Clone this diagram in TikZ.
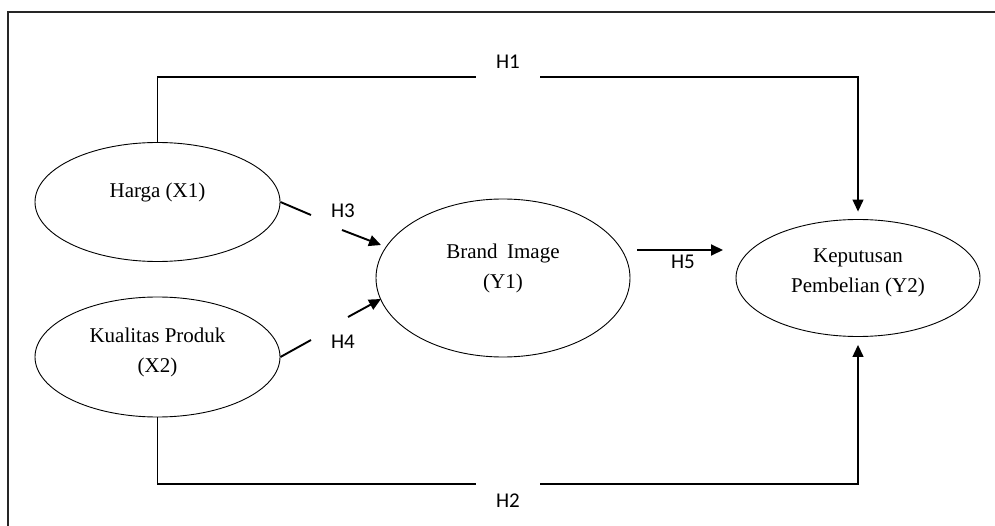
\documentclass[tikz,border=0pt]{standalone}
\usepackage{fontspec}
\setmainfont{Liberation Serif}
\newfontfamily\hfont{Carlito}
\usetikzlibrary{shapes.geometric,arrows.meta}
\begin{document}
\begin{tikzpicture}[x=1pt,y=-1pt,
  ell/.style={draw, ellipse, line width=0.9pt, inner sep=0pt},
  txt/.style={font=\fontsize{21}{30}\selectfont, align=center, inner sep=0pt},
  hlab/.style={font=\hfont\fontsize{21}{25}\selectfont, inner sep=0pt},
  conn/.style={line width=1.3pt},
  arr/.style={line width=1.9pt},
  tip/.style={-{Triangle[length=12pt,width=11pt]}}
]
\useasboundingbox (0,0) rectangle (995,526);
% frame
\draw[line width=1.6pt, black!85] (8,526) -- (8,12) -- (995,12);

% construct ellipses
\node[ell, minimum width=245pt, minimum height=119pt] (X1) at (157.5,202) {};
\node[ell, minimum width=245pt, minimum height=120pt] (X2) at (157.5,357) {};
\node[ell, minimum width=254pt, minimum height=158pt] (Y1) at (503,278) {};
\node[ell, minimum width=244pt, minimum height=117pt] (Y2) at (858,278) {};

% texts
\node[txt] (X1t) at ([yshift=10pt]X1.center) {Harga (X1)};
\node[txt] (X2t) at ([yshift=5pt]X2.center) {Kualitas Produk\\(X2)};
\node[txt] (Y1t) at ([yshift=10pt]Y1.center) {Brand\hspace{0.45em}Image\\(Y1)};
\node[txt] (Y2t) at ([yshift=5pt]Y2.center) {Keputusan\\Pembelian (Y2)};

% hypothesis labels
\node[hlab] (H1) at (508,62) {H1};
\node[hlab] (H2) at (508,501) {H2};
\node[hlab] (H3) at (343,211) {H3};
\node[hlab] (H4) at (343,342) {H4};
\node[hlab] (H5) at (683,262) {H5};

% gap coordinates
\coordinate (h1a) at (476,77);
\coordinate (h1b) at (540,77);
\coordinate (h2a) at (476,484);
\coordinate (h2b) at (540,484);
\coordinate (h3a) at (311,215);
\coordinate (h3b) at (342,230);
\coordinate (h3c) at (381,245);
\coordinate (h4a) at (311,340);
\coordinate (h4b) at (348,317);
\coordinate (h4c) at (381,299);
\coordinate (h5a) at (637,250);
\coordinate (h5b) at (723,250);

% H1
\draw[conn] (X1.north) |- (h1a);
\draw[conn, tip, shorten >=7.5pt] (h1b) -| (Y2.north);
% H2
\draw[conn] (X2.south) |- (h2a);
\draw[conn, tip, shorten >=8pt] (h2b) -| (Y2.south);
% H3
\draw[arr] (X1.east) -- (h3a);
\draw[arr, tip] (h3b) -- (h3c);
% H4
\draw[arr] (X2.east) -- (h4a);
\draw[arr, tip] (h4b) -- (h4c);
% H5
\draw[arr, tip] (h5a) -- (h5b);
\end{tikzpicture}
\end{document}
